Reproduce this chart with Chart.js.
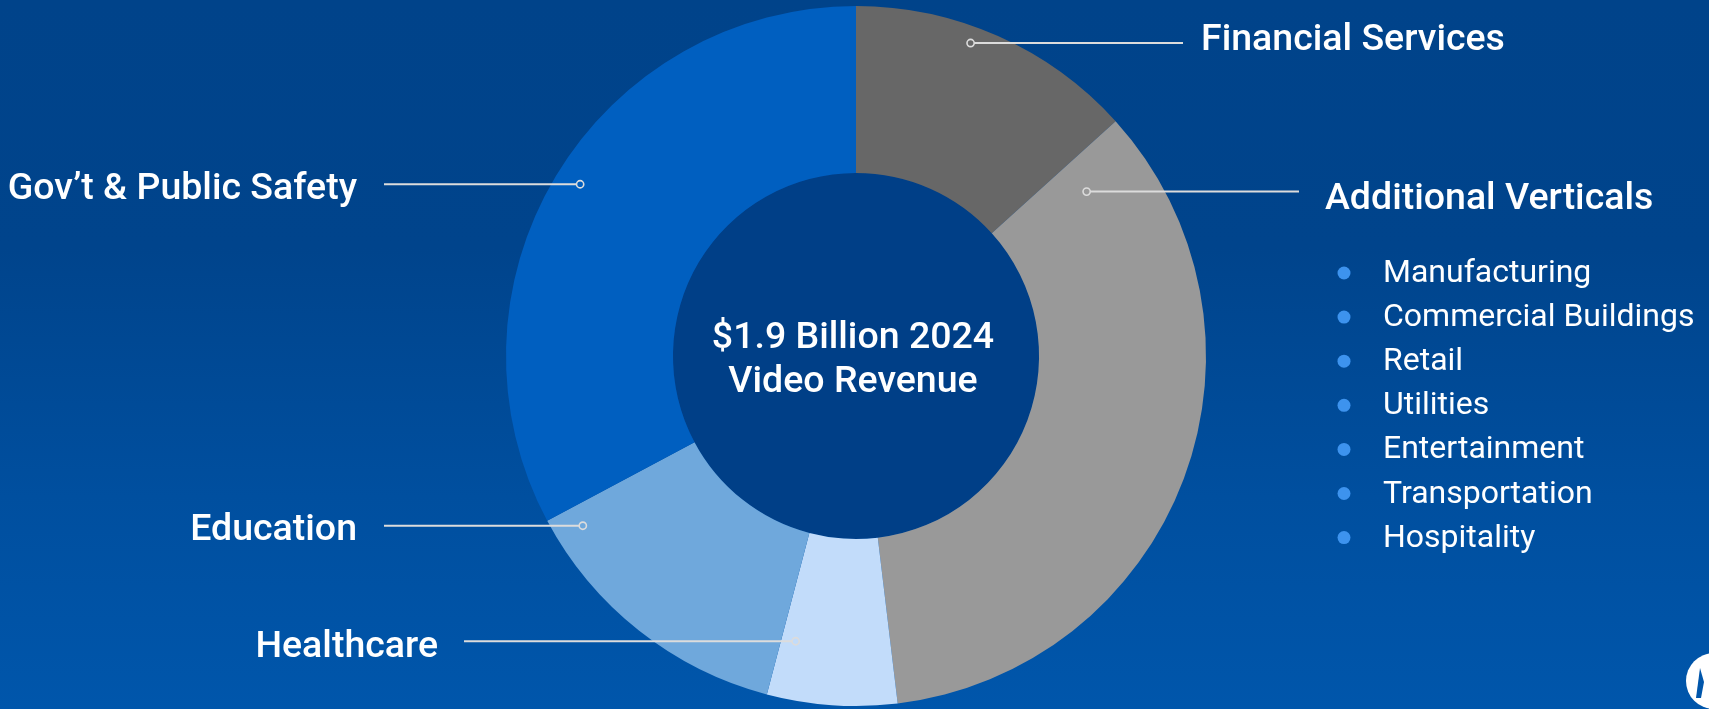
<!DOCTYPE html>
<html>
<head>
<meta charset="utf-8">
<script src="https://cdn.jsdelivr.net/npm/chart.js@4.4.1/dist/chart.umd.min.js"></script>
<style>
  html, body { margin: 0; padding: 0; overflow: hidden; }
  body {
    width: 1709px; height: 709px; position: relative;
    background: linear-gradient(180deg, #00438a 0%, #00448c 35%, #004f9f 70%, #0056ab 100%);
    font-family: Roboto, "Noto Sans", sans-serif;
  }
  #chart { position: absolute; left: 0; top: 0; }
  #logo { position: absolute; left: 1684px; top: 652px; }
</style>
</head>
<body>
<canvas id="chart" width="1709" height="709"></canvas>
<svg id="logo" width="25" height="57" viewBox="0 0 25 57">
  <circle cx="30" cy="29" r="28" fill="#ffffff"/>
  <path d="M12 46 L16 16 L20 30 L17 46 Z" fill="#0056ab"/>
</svg>
<script>
// --- data ---
const categories = ['Financial Services', 'Additional Verticals', 'Healthcare', 'Education', 'Gov’t & Public Safety'];
const shares = [13.3, 34.8, 6.0, 13.1, 32.8];
const sliceColors = ['#676767', '#999999', '#c2dcfa', '#6fa8dc', '#005fc0'];
const subVerticals = ['Manufacturing', 'Commercial Buildings', 'Retail', 'Utilities', 'Entertainment', 'Transportation', 'Hospitality'];
const centerLines = ['$1.9 Billion 2024', 'Video Revenue'];

// --- layout for the callouts (where on each slice the leader starts, where the text goes) ---
const leaders = [
    { side: 'right', angFrac: 0.42, radFrac: 0.90, lineTo: 1183, textX: 1201, dy: -2 },
    { side: 'right', angFrac: 0.053, radFrac: 0.60, lineTo: 1299, textX: 1325, dy: 8 },
    { side: 'left', angFrac: 0.87, radFrac: 0.65, lineTo: 464, textX: 438, dy: 6 },
    { side: 'left', angFrac: 0.92, radFrac: 0.83, lineTo: 384, textX: 357, dy: 5 },
    { side: 'left', angFrac: 0.508, radFrac: 0.85, lineTo: 384, textX: 357, dy: 5 }
];
const subList = { bulletX: 1344, textX: 1383, top: 273, step: 44.1 };

const calloutPlugin = {
    id: 'callouts',
    beforeDatasetsDraw(chart) {
        const arc = chart.getDatasetMeta(0).data[0];
        if (!arc) return;
        const ctx = chart.ctx;
        // dark centre disc
        ctx.save();
        ctx.fillStyle = '#003f87';
        ctx.beginPath();
        ctx.arc(arc.x, arc.y, arc.innerRadius, 0, Math.PI * 2);
        ctx.fill();
        ctx.restore();
    },
    afterDatasetsDraw(chart) {
        const ctx = chart.ctx;
        const arcs = chart.getDatasetMeta(0).data;
        ctx.save();

        arcs.forEach((a, i) => {
            const cfg = leaders[i];
            const ang = a.startAngle + (a.endAngle - a.startAngle) * cfg.angFrac;
            const r = a.innerRadius + (a.outerRadius - a.innerRadius) * cfg.radFrac;
            const px = a.x + r * Math.cos(ang);
            const py = a.y + r * Math.sin(ang);

            ctx.strokeStyle = '#dcdcdc';
            ctx.lineWidth = 2;
            ctx.beginPath();
            ctx.moveTo(px, py);
            ctx.lineTo(cfg.lineTo, py);
            ctx.stroke();

            ctx.fillStyle = sliceColors[i];
            ctx.lineWidth = 1.6;
            ctx.beginPath();
            ctx.arc(px, py, 3.6, 0, Math.PI * 2);
            ctx.fill();
            ctx.stroke();

            ctx.fillStyle = '#ffffff';
            ctx.font = '500 37.5px Roboto';
            ctx.textBaseline = 'middle';
            ctx.textAlign = cfg.side === 'right' ? 'left' : 'right';
            ctx.fillText(categories[i], cfg.textX, py + cfg.dy);
        });

        // list of the additional verticals
        subVerticals.forEach((name, i) => {
            const y = subList.top + subList.step * i;
            ctx.fillStyle = '#3d93ee';
            ctx.beginPath();
            ctx.arc(subList.bulletX, y, 6.5, 0, Math.PI * 2);
            ctx.fill();
            ctx.fillStyle = '#ffffff';
            ctx.font = '400 32px Roboto';
            ctx.textAlign = 'left';
            ctx.textBaseline = 'middle';
            ctx.fillText(name, subList.textX, y + 1);
        });

        // centre text
        const c = arcs[0];
        ctx.fillStyle = '#ffffff';
        ctx.font = '500 37.5px Roboto';
        ctx.textAlign = 'center';
        ctx.textBaseline = 'middle';
        ctx.fillText(centerLines[0], c.x - 3, c.y - 17);
        ctx.fillText(centerLines[1], c.x - 3, c.y + 27);

        ctx.restore();
    }
};

new Chart(document.getElementById('chart'), {
    type: 'doughnut',
    data: {
        labels: categories,
        datasets: [{
            data: shares,
            backgroundColor: sliceColors,
            borderWidth: 0,
            hoverOffset: 0
        }]
    },
    options: {
        responsive: false,
        animation: false,
        events: [],
        radius: 350,
        cutout: '52.3%',
        layout: { padding: { top: 6, bottom: 3, left: 3, right: 0 } },
        plugins: {
            legend: { display: false },
            tooltip: { enabled: false }
        }
    },
    plugins: [calloutPlugin]
});
</script>
</body>
</html>
